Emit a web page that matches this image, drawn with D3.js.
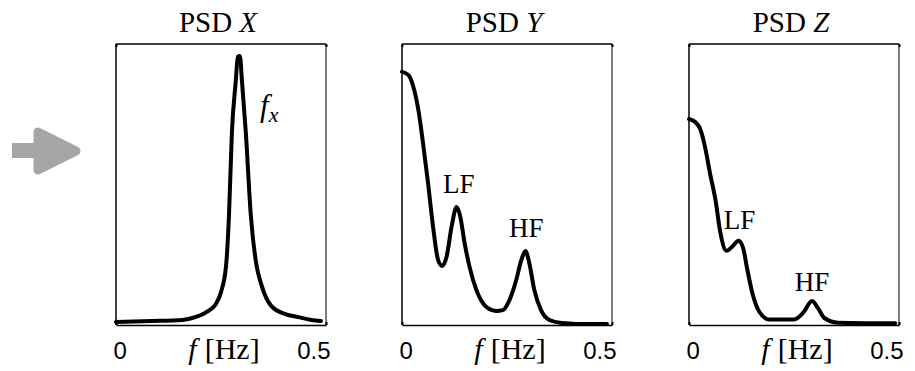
<!DOCTYPE html>
<html>
<head>
<meta charset="utf-8">
<script src="https://cdn.jsdelivr.net/npm/d3@7"></script>
<style>
  body { margin: 0; background: #fff; }
  svg { display: block; }
</style>
</head>
<body>
<div id="chart"></div>
<script>
// Frequencies (Hz) and normalised PSD
const freqX = [0, 0.085, 0.158, 0.182, 0.215, 0.238, 0.25, 0.262, 0.269, 0.276, 0.285, 0.29, 0.295, 0.3, 0.309, 0.321, 0.333, 0.347, 0.37, 0.403, 0.434, 0.465, 0.488];
const psdX  = [0.011, 0.014, 0.018, 0.025, 0.046, 0.075, 0.117, 0.21, 0.39, 0.687, 0.865, 0.954, 0.957, 0.865, 0.687, 0.39, 0.226, 0.139, 0.067, 0.039, 0.028, 0.018, 0.014];

const freqY = [0, 0.015, 0.027, 0.039, 0.05, 0.062, 0.074, 0.086, 0.096, 0.106, 0.118, 0.13, 0.139, 0.149, 0.161, 0.177, 0.201, 0.224, 0.24, 0.256, 0.272, 0.284, 0.294, 0.303, 0.315, 0.331, 0.351, 0.382, 0.414, 0.488];
const psdY  = [0.901, 0.89, 0.848, 0.765, 0.648, 0.505, 0.349, 0.231, 0.21, 0.242, 0.349, 0.42, 0.384, 0.292, 0.206, 0.125, 0.064, 0.05, 0.053, 0.089, 0.16, 0.231, 0.263, 0.221, 0.125, 0.053, 0.018, 0.007, 0.004, 0.004];

const freqZ = [0, 0.014, 0.026, 0.038, 0.05, 0.063, 0.075, 0.089, 0.103, 0.118, 0.129, 0.139, 0.151, 0.167, 0.191, 0.251, 0.271, 0.293, 0.307, 0.323, 0.355, 0.491];
const psdZ  = [0.733, 0.723, 0.7, 0.635, 0.54, 0.445, 0.326, 0.264, 0.279, 0.3, 0.273, 0.196, 0.113, 0.048, 0.02, 0.02, 0.042, 0.085, 0.06, 0.024, 0.008, 0.006];

const axisNames = ["X", "Y", "Z"];
const xTicks = [0, 0.5];
const xTickLabels = ["0", "0.5"];

// peak annotations: [panel, label, freq, psd]
const peakLabels = [
    [1, "LF", 0.135, 0.47],
    [1, "HF", 0.296, 0.314],
    [2, "LF", 0.12, 0.34],
    [2, "HF", 0.293, 0.122]
];

const width = 915, height = 371;
const svg = d3.select("#chart").append("svg")
    .attr("width", width)
    .attr("height", height);

// grey arrow on the left
svg.append("rect")
    .attr("x", 12).attr("y", 143)
    .attr("width", 30).attr("height", 15)
    .attr("fill", "#a6a6a6");
svg.append("path")
    .attr("d", "M38,132 L76,151 L38,170 Z")
    .attr("fill", "#a6a6a6")
    .attr("stroke", "#a6a6a6")
    .attr("stroke-width", 9)
    .attr("stroke-linejoin", "round");

const panelLeft = [116, 402, 689];
const panelW = 210;
const plotTop = 44, plotBottom = 325;
const series = [[freqX, psdX], [freqY, psdY], [freqZ, psdZ]];
const serif = "Liberation Serif, Times New Roman, serif";

series.forEach((s, i) => {
    const x = d3.scaleLinear().domain([0, 0.5]).range([panelLeft[i], panelLeft[i] + panelW]);
    const y = d3.scaleLinear().domain([0, 1]).range([plotBottom, plotTop]);
    const g = svg.append("g");
    const cx = panelLeft[i] + panelW / 2;

    // box
    g.append("line").attr("x1", x(0)).attr("x2", x(0.5)).attr("y1", plotTop).attr("y2", plotTop)
        .attr("stroke", "#000").attr("stroke-width", 1.5);
    g.append("line").attr("x1", x(0)).attr("x2", x(0)).attr("y1", plotTop).attr("y2", plotBottom)
        .attr("stroke", "#000").attr("stroke-width", 1.5);
    g.append("line").attr("x1", x(0.5)).attr("x2", x(0.5)).attr("y1", plotTop).attr("y2", plotBottom)
        .attr("stroke", "#000").attr("stroke-width", 1);

    // x axis with labels
    const xAxis = g.append("g")
        .attr("transform", `translate(0,${plotBottom})`)
        .call(d3.axisBottom(x).tickValues(xTicks).tickSize(-3).tickSizeOuter(0)
            .tickFormat((d, k) => xTickLabels[k]));
    xAxis.select(".domain").attr("stroke-width", 1.5);
    xAxis.selectAll(".tick line").attr("stroke-width", 2);
    xAxis.selectAll(".tick text")
        .attr("font-family", "Liberation Sans, Arial, sans-serif")
        .attr("font-size", 24)
        .attr("fill", "#000")
        .attr("y", 34)
        .attr("dy", 0)
        .attr("text-anchor", (d, k) => k === 0 ? "start" : "end")
        .attr("dx", (d, k) => k === 0 ? -3 : 4);

    // small tick marks on top
    g.append("g")
        .attr("transform", `translate(0,${plotTop})`)
        .call(d3.axisTop(x).tickValues(xTicks).tickSize(-3).tickFormat(""))
        .call(a => a.select(".domain").remove())
        .selectAll(".tick line").attr("stroke-width", 2);

    // the PSD curve
    g.append("path")
        .datum(s[0].map((f, k) => [f, s[1][k]]))
        .attr("fill", "none")
        .attr("stroke", "#000")
        .attr("stroke-width", 4)
        .attr("stroke-linejoin", "round")
        .attr("stroke-linecap", "round")
        .attr("d", d3.line().x(d => x(d[0])).y(d => y(d[1])).curve(d3.curveMonotoneX));

    // title
    const title = g.append("text")
        .attr("x", cx - 3).attr("y", 32)
        .attr("text-anchor", "middle")
        .attr("font-family", serif)
        .attr("font-size", 29);
    title.append("tspan").text("PSD ");
    title.append("tspan").attr("font-style", "italic").text(axisNames[i]);

    // x label
    const xl = g.append("text")
        .attr("x", cx + 3).attr("y", 359)
        .attr("text-anchor", "middle")
        .attr("font-family", serif)
        .attr("font-size", 30);
    xl.append("tspan").attr("font-style", "italic").text("f");
    xl.append("tspan").attr("dx", 8).text("[Hz]");

    peakLabels.filter(p => p[0] === i).forEach(p => {
        g.append("text")
            .attr("x", x(p[2])).attr("y", y(p[3]))
            .attr("text-anchor", "middle")
            .attr("font-family", serif)
            .attr("font-size", 27)
            .text(p[1]);
    });

    if (i === 0) {
        const fx = g.append("text")
            .attr("x", x(0.343)).attr("y", 116)
            .attr("font-family", serif)
            .attr("font-style", "italic")
            .attr("font-size", 31);
        fx.append("tspan").text("f");
        fx.append("tspan").attr("font-size", 22).attr("dy", 6).text("x");
    }
});
</script>
</body>
</html>
